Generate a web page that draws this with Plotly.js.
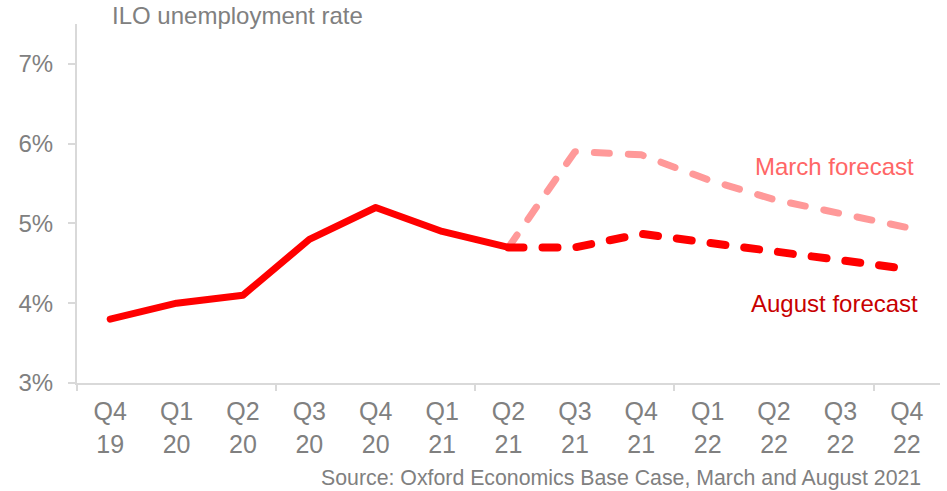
<!DOCTYPE html>
<html>
<head>
<meta charset="utf-8">
<script src="https://cdn.plot.ly/plotly-3.0.1.min.js"></script>
<style>
html,body{margin:0;padding:0;background:#fff;}
#chart{width:947px;height:491px;}
.scatterlayer .js-line{stroke-linecap:round;stroke-linejoin:round;}
</style>
</head>
<body>
<div id="chart"></div>
<script>
const categories = ["Q4<br>19","Q1<br>20","Q2<br>20","Q3<br>20","Q4<br>20","Q1<br>21","Q2<br>21","Q3<br>21","Q4<br>21","Q1<br>22","Q2<br>22","Q3<br>22","Q4<br>22"];
const actual = [3.8, 4.0, 4.1, 4.8, 5.2, 4.9, 4.7, null, null, null, null, null, null];
const marchForecast = [null, null, null, null, null, null, 4.7, 5.9, 5.86, 5.55, 5.3, 5.12, 4.95];
const augustForecast = [null, null, null, null, null, null, 4.7, 4.7, 4.87, 4.76, 4.63, 4.53, 4.43];
const yTickVals = [3, 4, 5, 6, 7];
const yTickText = ["3%", "4%", "5%", "6%", "7%"];
const boundaryTicks = [-0.5, 2.5, 5.5, 8.5, 11.5];

const grey = "#808080";
const font = "Liberation Sans, Arial, sans-serif";

const traces = [
  {x: categories, y: marchForecast, type: "scatter", mode: "lines",
   line: {color: "#ff9999", width: 7, dash: "15px,19px"}, hoverinfo: "skip"},
  {x: categories, y: augustForecast, type: "scatter", mode: "lines",
   line: {color: "#ff0000", width: 8, dash: "15px,19px"}, hoverinfo: "skip"},
  {x: categories, y: actual, type: "scatter", mode: "lines",
   line: {color: "#ff0000", width: 7}, hoverinfo: "skip"},
  {x: [boundaryTicks[0]], y: [null], xaxis: "x2", type: "scatter", mode: "lines",
   hoverinfo: "skip", showlegend: false}
];

const layout = {
  width: 947, height: 491,
  margin: {l: 77, r: 7, t: 24, b: 108},
  paper_bgcolor: "#fff", plot_bgcolor: "#fff",
  showlegend: false,
  font: {family: font, color: grey},
  title: {text: "ILO unemployment rate", font: {size: 24, color: grey, family: font},
          xref: "container", yref: "container", x: 112/947, xanchor: "left",
          y: 1 - 16/491, yanchor: "middle"},
  xaxis: {type: "category", categoryorder: "array", categoryarray: categories,
          range: [-0.5, 12.5], showline: true, linecolor: "#d9d9d9", linewidth: 2,
          ticks: "", showgrid: false, zeroline: false, ticklabelstandoff: 5,
          tickfont: {size: 25, color: grey, family: font}},
  xaxis2: {overlaying: "x", anchor: "y", range: [-0.5, 12.5], tickmode: "array",
           tickvals: boundaryTicks, showticklabels: false, ticks: "outside", ticklen: 7,
           tickcolor: "#d9d9d9", tickwidth: 2, showgrid: false, zeroline: false, showline: false},
  yaxis: {range: [3, 7.5], tickmode: "array", tickvals: yTickVals, ticktext: yTickText,
          showline: true, linecolor: "#d9d9d9", linewidth: 2, ticks: "outside", ticklen: 7,
          tickcolor: "#d9d9d9", tickwidth: 2, showgrid: false, zeroline: false,
          tickfont: {size: 24, color: grey, family: font}, ticklabelstandoff: 10},
  annotations: [
    {text: "March forecast", xref: "paper", yref: "y", x: (916-77)/863, y: 5.72,
     xanchor: "right", yanchor: "middle", showarrow: false,
     font: {size: 24, color: "#ff6666", family: font}},
    {text: "August forecast", xref: "paper", yref: "y", x: (920-77)/863, y: 4.0,
     xanchor: "right", yanchor: "middle", showarrow: false,
     font: {size: 24, color: "#c80000", family: font}},
    {text: "Source: Oxford Economics Base Case, March and August 2021",
     xref: "paper", yref: "paper", x: (923-77)/863, y: (383-478)/359,
     xanchor: "right", yanchor: "middle", showarrow: false,
     font: {size: 21.3, color: grey, family: font}}
  ]
};

Plotly.newPlot("chart", traces, layout, {staticPlot: true, displayModeBar: false});
</script>
</body>
</html>
